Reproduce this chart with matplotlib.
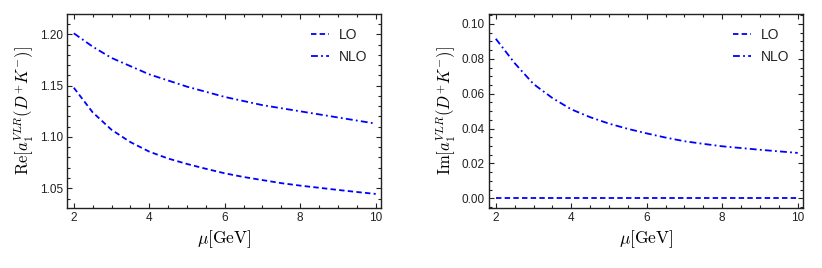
import numpy as np
import matplotlib
matplotlib.use("Agg")
import matplotlib.pyplot as plt
from matplotlib.ticker import MultipleLocator, FormatStrFormatter

plt.rcParams['mathtext.fontset'] = 'cm'
plt.rcParams['font.family'] = ['Liberation Sans', 'DejaVu Sans']

# values
mu = [2.0, 2.5, 3.0, 3.5, 4.0, 4.5, 5.0, 5.5, 6.0, 6.5, 7.0, 7.5, 8.0, 8.5, 9.0, 9.5, 10.0]
re_lo = [1.148, 1.124, 1.107, 1.095, 1.0857, 1.079, 1.0737, 1.069, 1.0646, 1.061,
         1.058, 1.055, 1.0526, 1.0505, 1.0484, 1.0464, 1.0445]
re_nlo = [1.201, 1.188, 1.177, 1.169, 1.161, 1.155, 1.149, 1.144, 1.139, 1.135,
          1.131, 1.128, 1.125, 1.122, 1.119, 1.116, 1.113]
im_lo = [0.0] * len(mu)
im_nlo = [0.0915, 0.0775, 0.0655, 0.0575, 0.0510, 0.0465, 0.0428, 0.0398, 0.0372, 0.0348,
          0.0327, 0.0312, 0.0298, 0.0288, 0.0278, 0.0269, 0.0260]

blue = (0, 0, 1)
dash_lo = (0, (3.0, 1.8))
dash_nlo = (0, (3.8, 1.8, 1.0, 1.8))

fig = plt.figure(figsize=(8.22, 2.68), dpi=100)
ax1 = fig.add_axes([67/822, 1-208/268, (381-67)/822, (208-14)/268])
ax2 = fig.add_axes([489/822, 1-208/268, (803-489)/822, (208-14)/268])


def style(ax, ymaj, ymin, ylims, ylabel):
	ax.set_xlim(1.82, 10.14)
	ax.set_ylim(*ylims)
	ax.xaxis.set_major_locator(MultipleLocator(2))
	ax.xaxis.set_minor_locator(MultipleLocator(0.5))
	ax.yaxis.set_major_locator(MultipleLocator(ymaj))
	ax.yaxis.set_minor_locator(MultipleLocator(ymin))
	ax.yaxis.set_major_formatter(FormatStrFormatter('%.2f'))
	ax.tick_params(which='both', direction='in', top=True, right=True,
		labelsize=8.5, colors='#222222', width=0.8)
	ax.tick_params(which='major', length=3.5, pad=3)
	ax.tick_params(which='minor', length=2)
	for s in ax.spines.values():
		s.set_linewidth(1.0)
		s.set_color('#222222')
	ax.set_xlabel(r'$\mu[\mathrm{GeV}]$', fontsize=12.5, labelpad=3)
	ax.set_ylabel(ylabel, fontsize=12, labelpad=3)
	leg = ax.legend(loc='upper right', frameon=False, fontsize=10, handlelength=1.3,
		handletextpad=0.7, labelspacing=0.55, borderaxespad=0.6)
	for t in leg.get_texts():
		t.set_color('#222222')


ax1.plot(mu, re_lo, color=blue, lw=1.3, linestyle=dash_lo, label='LO')
ax1.plot(mu, re_nlo, color=blue, lw=1.3, linestyle=dash_nlo, label='NLO')
style(ax1, 0.05, 0.01, (1.0308, 1.2198), r'$\mathrm{Re}[a_1^{VLR}(D^{+}K^{-})]$')

ax2.plot(mu, im_lo, color=blue, lw=1.3, linestyle=dash_lo, label='LO')
ax2.plot(mu, im_nlo, color=blue, lw=1.3, linestyle=dash_nlo, label='NLO')
style(ax2, 0.02, 0.005, (-0.0056, 0.1057), r'$\mathrm{Im}[a_1^{VLR}(D^{+}K^{-})]$')

plt.savefig("out.png", dpi=100)
